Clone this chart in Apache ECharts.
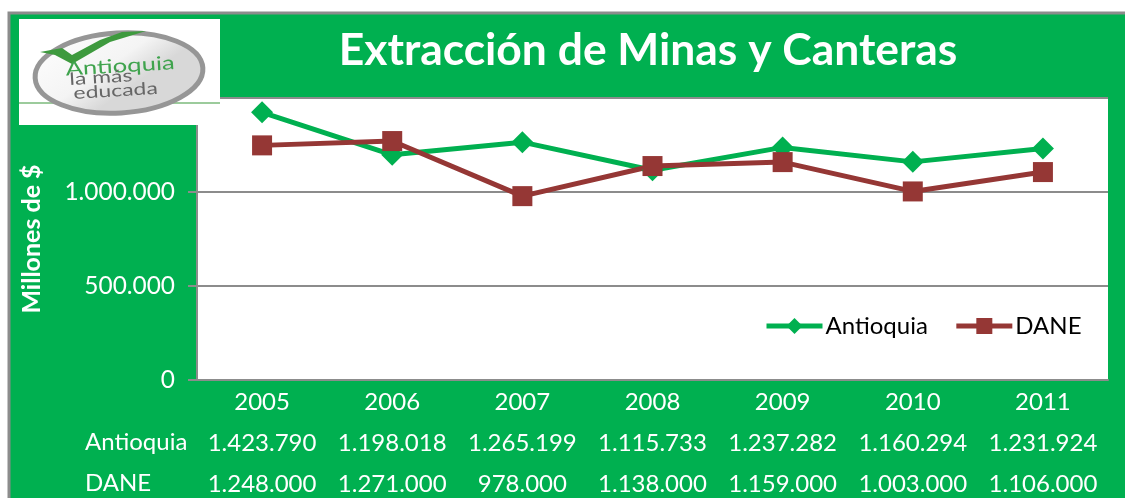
<!DOCTYPE html>
<html><head><meta charset="utf-8">
<style>html,body{margin:0;padding:0;background:#fff}#c{width:1125px;height:498px}</style>
<script src="https://cdn.jsdelivr.net/npm/echarts@6/dist/echarts.min.js"></script></head>
<body><div id="c"></div>
<script>
const years=['2005','2006','2007','2008','2009','2010','2011'];
const antioquia=[1423790,1198018,1265199,1115733,1237282,1160294,1231924];
const dane=[1248000,1271000,978000,1138000,1159000,1003000,1106000];
const seriesNames=['Antioquia','DANE'];
const title='Extracción de Minas y Canteras';
const yTitle='Millones de $';
const GREEN='#00B050',RED='#953735',GRAY='#8C8C8C',FONT='Lato, "Open Sans", sans-serif';
const dotted=v=>String(v).replace(/\B(?=(\d{3})+(?!\d))/g,'.');
const chart=echarts.init(document.getElementById('c'),null,{renderer:'canvas'});
chart.setOption({
 animation:false,
 backgroundColor:'#fff',
 textStyle:{fontFamily:FONT},
 title:{text:title,left:643,top:24,textAlign:'center',textStyle:{color:'#fff',fontSize:44.4,fontWeight:'bold',fontFamily:FONT}},
 grid:{left:197,right:17,top:98,height:282,outerBoundsMode:'none'},
 legend:{left:759,top:309,itemWidth:56,itemHeight:20,itemGap:26,
   lineStyle:{width:5},
   textStyle:{color:'#000',fontSize:24,fontFamily:FONT,padding:[0,0,0,-2]},data:seriesNames},
 xAxis:{type:'category',data:years,
   axisLine:{lineStyle:{color:GRAY,width:2}},axisTick:{show:false},
   axisLabel:{interval:0,margin:2,color:'#fff',fontSize:24,fontFamily:FONT,lineHeight:41,
     formatter:(v,i)=>v+'\n'+dotted(antioquia[i])+'\n'+dotted(dane[i])}},
 yAxis:{type:'value',min:0,max:1500000,interval:500000,name:yTitle,nameLocation:'middle',nameGap:165,
   nameTextStyle:{color:'#fff',fontSize:25,fontWeight:'bold',fontFamily:FONT,verticalAlign:'middle'},
   axisLine:{show:true,lineStyle:{color:GRAY,width:2}},
   axisTick:{show:true,length:9,lineStyle:{color:GRAY,width:2}},
   axisLabel:{margin:22,color:'#fff',fontSize:24.4,fontFamily:FONT,formatter:v=>dotted(v)},
   splitLine:{lineStyle:{color:GRAY,width:2}}},
 series:[
  {name:seriesNames[0],type:'line',data:antioquia,symbol:'diamond',symbolSize:22,showAllSymbol:true,
   lineStyle:{color:GREEN,width:5},itemStyle:{color:GREEN}},
  {name:seriesNames[1],type:'line',data:dane,symbol:'rect',symbolSize:20,showAllSymbol:true,
   lineStyle:{color:RED,width:5},itemStyle:{color:RED}}
 ],
 graphic:[
  {type:'rect',z:-100,shape:{x:9,y:13,width:1125,height:498},style:{fill:GREEN,stroke:GRAY,lineWidth:3}},
  {type:'rect',z:-99,shape:{x:197,y:98,width:911,height:282},style:{fill:'#fff'}},
  {type:'rect',z:100,shape:{x:19,y:19,width:201,height:106},style:{fill:'#fff'}},
  {type:'line',z:101,shape:{x1:19,y1:103,x2:220,y2:103},style:{stroke:'#9CCB9C',lineWidth:2}},
  {type:'ellipse',z:102,x:119,y:73,rotation:0.06,shape:{cx:0,cy:0,rx:84,ry:40},
    style:{stroke:'#969696',lineWidth:5,fill:{type:'linear',x:0,y:0,x2:0.3,y2:1,colorStops:[{offset:0,color:'#FFFFFF'},{offset:0.7,color:'#F4F4F4'},{offset:1,color:'#D8D8D8'}]}}},
  {type:'polygon',z:103,shape:{points:[[40,52],[62,48],[72,55],[100,40],[122,32],[146,31],[110,42],[72,64],[55,55]]},style:{fill:'#3E9A3E'}},
  {type:'text',z:104,rotation:0.06,x:65,y:60,scaleX:1.35,style:{text:'Antioquia',fill:'#3FA34D',font:'19px Lato'}},
  {type:'text',z:104,rotation:0.06,x:69,y:71,scaleX:1.35,style:{text:'la más',fill:'#666',font:'17px Lato'}},
  {type:'text',z:104,rotation:0.06,x:73,y:85,scaleX:1.35,style:{text:'educada',fill:'#666',font:'17px Lato'}},
  {type:'text',z:5,x:85,y:430,style:{text:seriesNames[0],fill:'#fff',font:'24px '+FONT}},
  {type:'text',z:5,x:85,y:471,style:{text:seriesNames[1],fill:'#fff',font:'24px '+FONT}}
 ]
});
</script></body></html>
